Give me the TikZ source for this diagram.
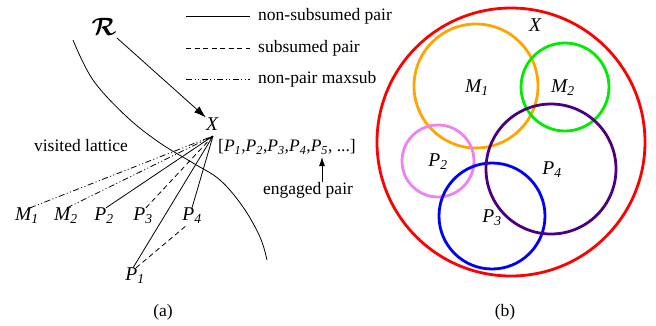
\documentclass[tikz,border=0pt]{standalone}
\usepackage{amsmath}
\usepackage{fontspec}
\setmainfont{Liberation Serif}
\usetikzlibrary{arrows.meta}
\definecolor{cred}{RGB}{255,0,0}
\definecolor{corange}{RGB}{255,165,0}
\definecolor{cgreen}{RGB}{0,235,0}
\definecolor{cpink}{RGB}{238,130,238}
\definecolor{cpurple}{RGB}{75,0,130}
\definecolor{cblue}{RGB}{0,0,255}
\newcommand{\Pn}[2]{{\itshape #1\textsubscript{\itshape #2}}}
\begin{document}
\begin{tikzpicture}[x=1pt,y=-1pt,
  every node/.style={inner sep=0pt, font=\fontsize{17.5}{20}\selectfont},
  lbl/.style={font=\fontsize{19.5}{22}\selectfont},
  thinline/.style={line width=0.8pt},
  subsumed/.style={thinline, dash pattern=on 5pt off 3.5pt},
  maxsub/.style={thinline, dash pattern=on 6pt off 2.5pt on 1pt off 2.5pt on 1pt off 2.5pt},
  ring/.style={circle, draw, line width=2.8pt, minimum size=#1}]
\useasboundingbox (0,0) rectangle (656,325);
% legend
\coordinate (l1a) at (186,16); \coordinate (l1b) at (250,16);
\coordinate (l2a) at (186,48); \coordinate (l2b) at (250,48);
\coordinate (l3a) at (186,79); \coordinate (l3b) at (250,79);
\draw[thinline] (l1a) -- (l1b);
\draw[subsumed] (l2a) -- (l2b);
\draw[maxsub] (l3a) -- (l3b);
\node[anchor=west] (t1) at (258,16) {non-subsumed pair};
\node[anchor=west] (t2) at (258,48) {subsumed pair};
\node[anchor=west] (t3) at (258,79) {non-pair maxsub};
% R arrow
\node (R) at (104,27) {\scalebox{1.45}{$\boldsymbol{\mathcal{R}}$}};
\node[lbl] (X) at (212,124) {\itshape X};
\coordinate (apex) at (213,136);
\coordinate (Rs) at (117,38);
\draw[thinline, -{Latex[length=12pt,width=8pt]}] (Rs) -- (X.north west);
% boundary curve
\draw[thinline] plot[smooth, tension=0.6] coordinates {(73,40) (93,80) (127,117) (160,143) (193,163) (220,180) (243,207) (260,237) (267,260)};
\node (vl) at (81,146) {visited lattice};
\node[anchor=west] (list) at (218,147) {[\Pn{P}{1},\Pn{P}{2},\Pn{P}{3},\Pn{P}{4},\Pn{P}{5}, ...]};
\node (eng) at (308,190) {engaged pair};
\coordinate (engtip) at (322,157);
\draw[thinline, -{Latex[length=9pt,width=6pt]}] (eng.north -| engtip) -- (engtip);
% lattice nodes
\node[lbl] (M1) at (27,216) {\Pn{M}{1}};
\node[lbl] (M2) at (66,216) {\Pn{M}{2}};
\node[lbl] (P2) at (104,216) {\Pn{P}{2}};
\node[lbl] (P3) at (143,216) {\Pn{P}{3}};
\node[lbl] (P4) at (192,216) {\Pn{P}{4}};
\node[lbl] (P1) at (135,276) {\Pn{P}{1}};
\draw[maxsub] ([xshift=3pt]M1.north) -- (apex);
\draw[maxsub] ([xshift=1pt]M2.north) -- (apex);
\draw[thinline] ([xshift=2pt]P2.north) -- (apex);
\draw[subsumed] ([xshift=3pt]P3.north) -- (apex);
\draw[thinline] (P4.north) -- (apex);
\draw[thinline] ([xshift=-2pt]P1.north) -- (apex);
\draw[subsumed] ([xshift=1pt]P1.north) -- ([xshift=-4pt]P4.south);
\node (ca) at (163,312) {(a)};
% right panel
\node[ring=268pt, draw=cred] (cX) at (511,142) {};
\node[ring=124pt, draw=corange] (cM1) at (476,86) {};
\node[ring=88pt, draw=cgreen] (cM2) at (565,87) {};
\node[ring=72pt, draw=cpink] (cP2) at (438,161) {};
\node[ring=106pt, draw=cblue] (cP3) at (492,216) {};
\node[ring=130pt, draw=cpurple] (cP4) at (551,169) {};
\node[lbl] (lX) at (535,25) {\itshape X};
\node[lbl] (lM1) at (477,88) {\Pn{M}{1}};
\node[lbl] (lM2) at (563,88) {\Pn{M}{2}};
\node[lbl] (lP2) at (438,162) {\Pn{P}{2}};
\node[lbl] (lP3) at (492,218) {\Pn{P}{3}};
\node[lbl] (lP4) at (552,170) {\Pn{P}{4}};
\node (cb) at (505,312) {(b)};
\end{tikzpicture}
\end{document}
